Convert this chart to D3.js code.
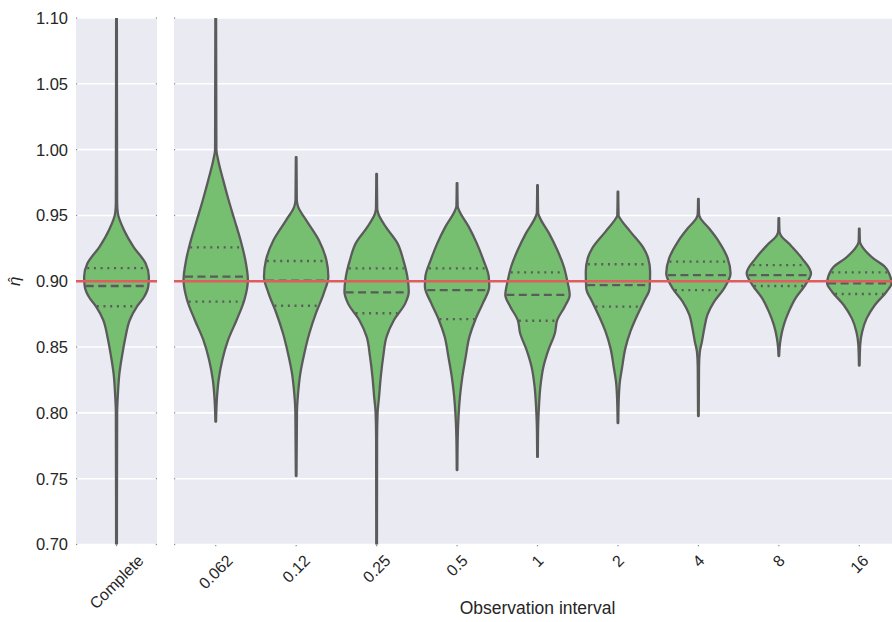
<!DOCTYPE html>
<html>
<head>
<meta charset="utf-8">
<script src="https://cdn.jsdelivr.net/npm/d3@7"></script>
<style>
  html, body { margin: 0; padding: 0; background: #ffffff; }
  svg { display: block; }
  text { font-family: "Liberation Sans", Arial, sans-serif; fill: #262626; }
</style>
</head>
<body>
<svg id="chart" width="892" height="622"></svg>
<script>
// ---------------- DATA ----------------
const completeLabel = ["Complete"];
const intervals = ["0.062", "0.12", "0.25", "0.5", "1", "2", "4", "8", "16"];
const yTicks = [0.70, 0.75, 0.80, 0.85, 0.90, 0.95, 1.00, 1.05, 1.10];
const trueEta = 0.90;

// Violin outlines: [eta value, relative half-width (1 = widest)]
const profileComplete = [[1.15,0.01],[0.96,0.02],[0.952,0.04],[0.939,0.23],[0.926,0.53],[0.9135,0.9],[0.9033,1.0],[0.896,0.98],[0.888,0.85],[0.8807,0.63],[0.8706,0.41],[0.8579,0.28],[0.8453,0.185],[0.83,0.09],[0.815,0.045],[0.80,0.02],[0.65,0.01]];
const profile0062 = [[1.12,0.01],[1.0,0.02],[0.992,0.077],[0.977,0.23],[0.9617,0.4],[0.9465,0.585],[0.9313,0.77],[0.9161,0.92],[0.901,1.0],[0.8858,0.89],[0.8706,0.65],[0.8554,0.385],[0.8402,0.205],[0.825,0.09],[0.81,0.035],[0.7933,0.01]];
const profile012 = [[0.9942,0.01],[0.962,0.02],[0.9566,0.06],[0.9465,0.31],[0.931,0.71],[0.916,0.94],[0.9035,1.0],[0.891,0.86],[0.8757,0.615],[0.8605,0.41],[0.8453,0.255],[0.83,0.13],[0.8149,0.06],[0.80,0.025],[0.752,0.01]];
const profile025 = [[0.9815,0.01],[0.955,0.02],[0.9516,0.05],[0.9415,0.28],[0.9288,0.65],[0.9161,0.83],[0.9035,0.955],[0.892,1.0],[0.8832,0.89],[0.8706,0.54],[0.8579,0.31],[0.8427,0.205],[0.8275,0.13],[0.8123,0.077],[0.7997,0.03],[0.78,0.015],[0.68,0.01]];
const profile05 = [[0.9746,0.01],[0.957,0.02],[0.954,0.06],[0.9415,0.36],[0.9288,0.615],[0.916,0.82],[0.9035,0.985],[0.896,1.0],[0.8832,0.8],[0.8706,0.565],[0.8579,0.385],[0.8427,0.27],[0.8275,0.165],[0.8123,0.09],[0.797,0.045],[0.78,0.02],[0.7566,0.01]];
const profile1 = [[0.973,0.01],[0.952,0.02],[0.949,0.06],[0.9364,0.36],[0.9237,0.615],[0.911,0.82],[0.9009,0.92],[0.8896,1.0],[0.8807,0.845],[0.8706,0.615],[0.8605,0.54],[0.8478,0.34],[0.835,0.185],[0.82,0.09],[0.8047,0.045],[0.79,0.02],[0.7665,0.01]];
const profile2 = [[0.968,0.01],[0.95,0.02],[0.948,0.06],[0.9377,0.385],[0.925,0.8],[0.9174,0.94],[0.9073,1.0],[0.8946,0.985],[0.8845,0.8],[0.8744,0.605],[0.8617,0.385],[0.849,0.23],[0.8339,0.125],[0.8237,0.06],[0.81,0.025],[0.7923,0.01]];
const profile4 = [[0.9625,0.01],[0.951,0.02],[0.948,0.06],[0.9402,0.33],[0.930,0.64],[0.9174,0.91],[0.906,1.0],[0.8946,0.8],[0.8845,0.49],[0.8744,0.28],[0.8643,0.185],[0.8541,0.11],[0.8465,0.045],[0.835,0.02],[0.7976,0.01]];
const profile8 = [[0.948,0.01],[0.938,0.02],[0.935,0.06],[0.9275,0.36],[0.9174,0.72],[0.906,1.0],[0.8971,0.82],[0.887,0.515],[0.8769,0.31],[0.8668,0.155],[0.8567,0.06],[0.85,0.025],[0.8432,0.01]];
const profile16 = [[0.94,0.01],[0.93,0.02],[0.9275,0.06],[0.9174,0.435],[0.911,0.795],[0.9035,0.965],[0.8984,1.0],[0.892,0.845],[0.882,0.485],[0.8718,0.23],[0.8617,0.09],[0.852,0.03],[0.836,0.01]];

const completeQ1 = [0.881], completeMedian = [0.8964], completeQ3 = [0.910];
const intervalQ1     = [0.8845, 0.8814, 0.8757, 0.8713, 0.8700, 0.8807, 0.8933, 0.8964, 0.8903];
const intervalMedian = [0.9035, 0.9004, 0.8916, 0.8933, 0.8896, 0.8971, 0.9047, 0.9047, 0.8984];
const intervalQ3     = [0.9258, 0.9154, 0.9098, 0.9098, 0.9068, 0.9129, 0.9149, 0.9123, 0.9068];
const intervalProfiles = [profile0062, profile012, profile025, profile05, profile1, profile2, profile4, profile8, profile16];

// ---------------- LAYOUT ----------------
const svg = d3.select("#chart");
const plotTop = 18, plotBottom = 544.5;
const leftPanel = [76, 157];
const rightPanel = [175.5, 899.5];
const BG = "#EAEAF2", FILL = "#76bf70", GRAY = "#5b5b5b", RED = "#df5d5d";
const LW = 2.3;

const y = d3.scaleLinear().domain([0.70, 1.10]).range([plotBottom, plotTop]);
const xL = d3.scaleBand().domain(completeLabel).range(leftPanel);
const xR = d3.scaleBand().domain(intervals).range(rightPanel);

const defs = svg.append("defs");
defs.append("clipPath").attr("id", "clipL").append("rect")
  .attr("x", leftPanel[0]).attr("y", plotTop).attr("width", leftPanel[1]-leftPanel[0]).attr("height", plotBottom-plotTop);
defs.append("clipPath").attr("id", "clipR").append("rect")
  .attr("x", rightPanel[0]-1.5).attr("y", plotTop).attr("width", rightPanel[1]-rightPanel[0]+1.5).attr("height", plotBottom-plotTop);

function panel(range, clipId, xs, cats, profiles, q1s, meds, q3s) {
  const off = clipId === "clipR" ? 1.5 : 0;
  const g = svg.append("g");
  g.append("rect").attr("x", range[0] - off).attr("y", plotTop)
    .attr("width", range[1]-range[0] + off).attr("height", plotBottom-plotTop).attr("fill", BG);
  // grid
  g.selectAll("line.grid").data(yTicks).join("line")
    .attr("x1", range[0] - off).attr("x2", range[1])
    .attr("y1", d => y(d)).attr("y2", d => y(d))
    .attr("stroke", "#ffffff").attr("stroke-width", 1.6);
  // tiny tick marks at panel edges
  g.selectAll("rect.tl").data(yTicks).join("rect")
    .attr("x", range[0] - off).attr("y", d => y(d)-0.6).attr("width", 1.2).attr("height", 1.2)
    .attr("fill", "#555").attr("opacity", 0.7);
  if (clipId === "clipL") {
    g.selectAll("rect.tr").data(yTicks).join("rect")
      .attr("x", range[1]-1.2).attr("y", d => y(d)-0.6).attr("width", 1.2).attr("height", 1.2)
      .attr("fill", "#555").attr("opacity", 0.7);
  }
  g.selectAll("rect.tb").data(cats).join("rect")
    .attr("x", d => xs(d) + xs.bandwidth()/2 - 0.6).attr("y", plotBottom + 0.5).attr("width", 1.2).attr("height", 1.2)
    .attr("fill", "#555").attr("opacity", 0.7);

  const vg = g.append("g").attr("clip-path", `url(#${clipId})`);
  const maxHW = xs.bandwidth() * 0.4;
  cats.forEach((c, i) => {
    const cx = xs(c) + xs.bandwidth()/2;
    const prof = profiles[i];
    const area = d3.area()
      .y(d => y(d[0]))
      .x0(d => cx - d[1]*maxHW)
      .x1(d => cx + d[1]*maxHW)
      .curve(d3.curveMonotoneY);
    const sorted = prof.slice().sort((a,b) => a[0]-b[0]);
    vg.append("path").attr("d", area(sorted))
      .attr("fill", FILL).attr("stroke", GRAY).attr("stroke-width", LW).attr("stroke-linejoin", "round");
    const hwAt = v => {
      for (let k = 0; k < sorted.length-1; k++) {
        const a = sorted[k], b = sorted[k+1];
        if (v >= a[0] && v <= b[0]) return (a[1] + (b[1]-a[1])*(v-a[0])/(b[0]-a[0])) * maxHW;
      }
      return 0;
    };
    const qlines = [
      {v: q1s[i], dash: "2,4.7"},
      {v: meds[i], dash: "8,4.5"},
      {v: q3s[i], dash: "2,4.7"}
    ];
    qlines.forEach(q => {
      const hw = hwAt(q.v) - 1;
      vg.append("line")
        .attr("x1", cx - hw).attr("x2", cx + hw)
        .attr("y1", y(q.v)).attr("y2", y(q.v))
        .attr("stroke", GRAY).attr("stroke-width", LW).attr("stroke-dasharray", q.dash);
    });
  });
  // reference line
  vg.append("line").attr("x1", range[0]-2).attr("x2", range[1])
    .attr("y1", y(trueEta)).attr("y2", y(trueEta))
    .attr("stroke", RED).attr("stroke-width", 2.6);

  // x tick labels rotated 45
  const labTop = plotBottom + 9;
  cats.forEach(c => {
    const cx = xs(c) + xs.bandwidth()/2;
    const t = g.append("text").text(c).attr("font-size", 16).attr("text-anchor", "middle")
      .attr("dominant-baseline", "central");
    const w = t.node().getComputedTextLength();
    const h = 16 * 0.75;
    const bh = (w + h) / Math.SQRT2;
    const cy = labTop + bh/2;
    t.attr("transform", `translate(${cx},${cy}) rotate(-45)`);
  });
}

panel(leftPanel, "clipL", xL, completeLabel, [profileComplete], completeQ1, completeMedian, completeQ3);
panel(rightPanel, "clipR", xR, intervals, intervalProfiles, intervalQ1, intervalMedian, intervalQ3);

// y tick labels
svg.append("g").selectAll("text").data(yTicks).join("text")
  .attr("x", 68).attr("y", d => y(d)).attr("dy", "0.36em")
  .attr("text-anchor", "end").attr("font-size", 16.5)
  .text(d => d.toFixed(2));

// y axis label (eta hat)
const yl = svg.append("g").attr("transform", `translate(20,${(plotTop+plotBottom)/2}) rotate(-90)`);
yl.append("text").attr("x", 0).attr("y", 0)
  .attr("text-anchor", "middle")
  .attr("font-family", "DejaVu Sans").attr("font-style", "italic").attr("font-size", 17)
  .text("\u03B7");
yl.append("text").attr("x", 1.5).attr("y", -1)
  .attr("text-anchor", "middle")
  .attr("font-family", "DejaVu Sans").attr("font-size", 14)
  .text("\u02C6");

// x axis label
svg.append("text")
  .attr("x", (rightPanel[0] + rightPanel[1]) / 2).attr("y", 614)
  .attr("text-anchor", "middle").attr("font-size", 17.5)
  .text("Observation interval");
</script>
</body>
</html>
